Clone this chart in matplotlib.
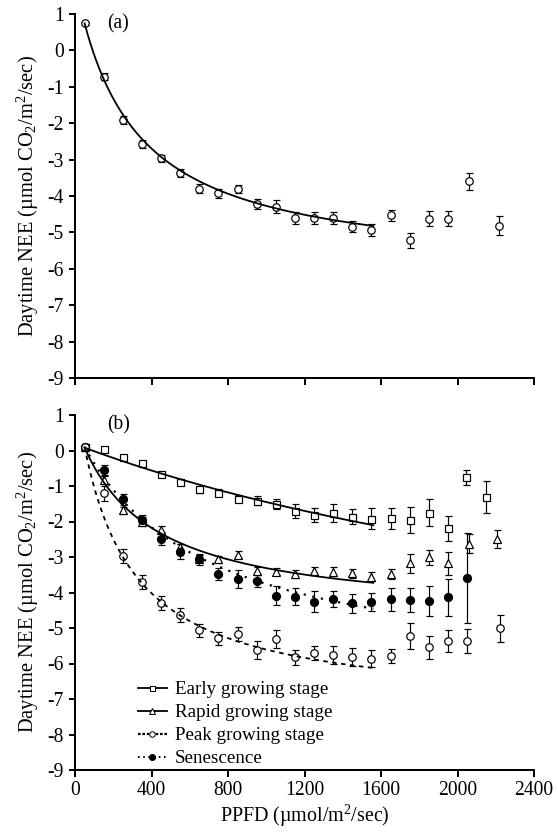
import numpy as np
import matplotlib
matplotlib.use("Agg")
import matplotlib.pyplot as plt
from matplotlib.lines import Line2D

plt.rcParams['font.family'] = ['Liberation Serif', 'DejaVu Serif']
plt.rcParams['mathtext.fontset'] = 'custom'
plt.rcParams['mathtext.rm'] = 'Liberation Serif'
plt.rcParams['mathtext.it'] = 'Liberation Serif:italic'
plt.rcParams['axes.unicode_minus'] = False

# ---- Panel (a): whole-season light response ----
ppfd_a = [50, 150, 250, 350, 450, 550, 650, 750, 850, 950, 1050, 1150, 1250,
          1350, 1450, 1550, 1650, 1750, 1850, 1950, 2060, 2215]
nee_a = [0.74, -0.72, -1.91, -2.58, -2.96, -3.36, -3.80, -3.93, -3.81, -4.23,
         -4.29, -4.61, -4.61, -4.61, -4.84, -4.94, -4.53, -5.22, -4.62, -4.62,
         -3.60, -4.82]
err_a = [0.05, 0.09, 0.11, 0.11, 0.10, 0.11, 0.13, 0.12, 0.11, 0.14, 0.17,
         0.16, 0.17, 0.17, 0.16, 0.16, 0.15, 0.20, 0.20, 0.21, 0.23, 0.26]
# rectangular hyperbola: NEE = R - a*Q*Pmax/(a*Q + Pmax)
fit_a = dict(R=1.90, alpha=0.027, pmax=8.0)

# ---- Panel (b): by growth stage ----
ppfd_early = [50, 150, 250, 350, 450, 550, 650, 750, 850, 950, 1050, 1150, 1250,
              1350, 1450, 1550, 1650, 1750, 1850, 1950, 2045, 2150]
nee_early = [0.10, 0.03, -0.17, -0.36, -0.67, -0.88, -1.09, -1.19, -1.36, -1.41,
             -1.51, -1.70, -1.82, -1.75, -1.86, -1.92, -1.91, -1.96, -1.75, -2.19,
             -0.76, -1.32]
err_early = [0.05, 0.05, 0.05, 0.06, 0.06, 0.08, 0.10, 0.10, 0.10, 0.12, 0.13,
             0.20, 0.19, 0.25, 0.20, 0.29, 0.30, 0.37, 0.38, 0.35, 0.21, 0.45]

ppfd_rapid = [50, 150, 250, 350, 450, 550, 650, 750, 850, 950, 1050, 1150, 1250,
              1350, 1450, 1550, 1650, 1750, 1850, 1950, 2060, 2205]
nee_rapid = [0.10, -0.83, -1.69, -2.00, -2.23, -2.73, -3.05, -3.06, -2.94, -3.39,
             -3.41, -3.48, -3.39, -3.41, -3.46, -3.55, -3.48, -3.18, -3.01, -3.18,
             -2.63, -2.50]
err_rapid = [0.05, 0.10, 0.10, 0.12, 0.10, 0.10, 0.10, 0.10, 0.10, 0.12, 0.10,
             0.10, 0.12, 0.12, 0.12, 0.12, 0.15, 0.26, 0.21, 0.32, 0.27, 0.25]

ppfd_peak = [50, 150, 250, 350, 450, 550, 650, 750, 850, 950, 1050, 1150, 1250,
             1350, 1450, 1550, 1650, 1750, 1850, 1950, 2050, 2220]
nee_peak = [0.10, -1.20, -2.97, -3.70, -4.30, -4.63, -5.06, -5.29, -5.18, -5.62,
            -5.32, -5.83, -5.71, -5.76, -5.82, -5.86, -5.79, -5.23, -5.54, -5.37,
            -5.37, -5.01]
err_peak = [0.05, 0.21, 0.20, 0.20, 0.20, 0.20, 0.18, 0.18, 0.20, 0.25, 0.25,
            0.20, 0.20, 0.25, 0.25, 0.25, 0.20, 0.36, 0.32, 0.32, 0.34, 0.39]

ppfd_sen = [50, 150, 250, 350, 450, 550, 650, 750, 850, 950, 1050, 1150, 1250,
            1350, 1450, 1550, 1650, 1750, 1850, 1950, 2050]
nee_sen = [0.10, -0.55, -1.38, -1.96, -2.48, -2.85, -3.07, -3.48, -3.62, -3.67,
           -4.09, -4.12, -4.26, -4.19, -4.30, -4.27, -4.19, -4.21, -4.23, -4.14,
           -3.60]
err_sen = [0.08, 0.15, 0.15, 0.15, 0.18, 0.22, 0.15, 0.17, 0.25, 0.17, 0.26,
           0.24, 0.29, 0.23, 0.27, 0.25, 0.32, 0.35, 0.42, 0.52, 1.27]

fit_early = dict(R=0.18, alpha=0.00205, pmax=8.0)
fit_rapid = dict(R=0.78, alpha=0.016, pmax=5.5)
fit_peak = dict(R=1.74, alpha=0.04, pmax=9.0)
fit_sen = dict(R=0.63, alpha=0.0115, pmax=7.1)
fit_range = (50, 1560)

stage_labels = ['Early growing stage', 'Rapid growing stage',
                'Peak growing stage', 'Senescence']
x_ticks = [0, 400, 800, 1200, 1600, 2000, 2400]
y_ticks = list(range(-9, 2))


def light_response(q, R, alpha, pmax):
    return R - alpha * q * pmax / (alpha * q + pmax)


W, H = 558, 837
fig = plt.figure(figsize=(W / 72, H / 72), dpi=72)
left, right = 75 / W, 534 / W
ax_a = fig.add_axes([left, 1 - 378 / H, right - left, (378 - 14) / H])
ax_b = fig.add_axes([left, 1 - 770 / H, right - left, (770 - 415) / H])

FS = 19.5
q = np.linspace(fit_range[0], fit_range[1], 300)


def style_axis(ax, show_xlabels):
    ax.set_xlim(0, 2400)
    ax.set_ylim(-9, 1)
    ax.set_xticks(x_ticks)
    ax.set_yticks(y_ticks)
    for s in ('top', 'right'):
        ax.spines[s].set_visible(False)
    for s in ('left', 'bottom'):
        ax.spines[s].set_linewidth(2.0)
    ax.tick_params(axis='both', direction='out', width=2.0, labelsize=FS)
    ax.tick_params(axis='x', length=7, pad=4)
    ax.tick_params(axis='y', length=6, pad=5)
    if not show_xlabels:
        ax.set_xticklabels([])
    ax.set_ylabel('Daytime NEE (µmol CO$_2$/m$^2$/sec)', fontsize=FS + 1,
                  labelpad=6)


ebar_kw = dict(ecolor='black', elinewidth=1.2, capsize=3.5, capthick=1.2,
               linestyle='none', markeredgewidth=1.2, markeredgecolor='black',
               zorder=3)

# panel (a)
ax_a.errorbar(ppfd_a, nee_a, yerr=err_a, marker='o', markersize=7.5,
              markerfacecolor='white', **ebar_kw)
ax_a.plot(q, light_response(q, **fit_a), color='black', lw=1.8, zorder=4)
style_axis(ax_a, False)
ax_a.text(0.07, 1.0, '(a)', transform=ax_a.transAxes, fontsize=FS,
          va='top', ha='left')

# panel (b)
ax_b.errorbar(ppfd_early, nee_early, yerr=err_early, marker='s', markersize=7,
              markerfacecolor='white', **ebar_kw)
ax_b.errorbar(ppfd_rapid, nee_rapid, yerr=err_rapid, marker='^', markersize=8,
              markerfacecolor='white', **ebar_kw)
ax_b.errorbar(ppfd_sen, nee_sen, yerr=err_sen, marker='o', markersize=8,
              markerfacecolor='black', **ebar_kw)
ax_b.errorbar(ppfd_peak, nee_peak, yerr=err_peak, marker='o', markersize=7.5,
              markerfacecolor='white', **ebar_kw)

ax_b.plot(q, light_response(q, **fit_early), color='black', lw=1.8, zorder=4)
ax_b.plot(q, light_response(q, **fit_rapid), color='black', lw=1.8, zorder=4)
ax_b.plot(q, light_response(q, **fit_peak), color='black', lw=1.8,
          linestyle=(0, (2.5, 2.5)), zorder=4)
ax_b.plot(q, light_response(q, **fit_sen), color='black', lw=2.2,
          linestyle=(0, (1, 3)), zorder=4)

style_axis(ax_b, True)
ax_b.set_xlabel('PPFD (µmol/m$^2$/sec)', fontsize=FS + 0.5, labelpad=3)
ax_b.text(0.07, 1.0, '(b)', transform=ax_b.transAxes, fontsize=FS,
          va='top', ha='left')

handles = [
    Line2D([], [], color='black', lw=1.8, marker='s', markersize=5,
           markerfacecolor='white', markeredgecolor='black'),
    Line2D([], [], color='black', lw=1.8, marker='^', markersize=5.5,
           markerfacecolor='white', markeredgecolor='black'),
    Line2D([], [], color='black', lw=2.2, linestyle=(0, (1.2, 0.8)), marker='o',
           markersize=5.5, markerfacecolor='white', markeredgecolor='black'),
    Line2D([], [], color='black', lw=2.0, linestyle=(0, (0.8, 1.8)), marker='o',
           markersize=6, markerfacecolor='black', markeredgecolor='black'),
]
ax_b.legend(handles, stage_labels, loc='upper left',
            bbox_to_anchor=((138 - 75) / 459, (770 - 681) / 355),
            frameon=False, fontsize=FS - 0.5, handlelength=1.5,
            handletextpad=0.45, labelspacing=0.3, borderpad=0,
            borderaxespad=0)

fig.savefig('out.png', dpi=72)
